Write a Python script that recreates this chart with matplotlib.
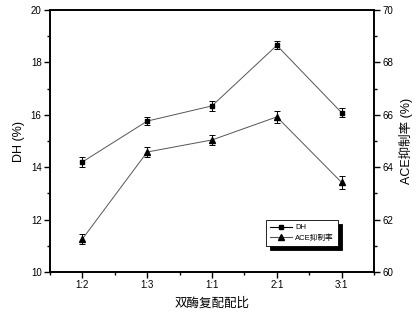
import matplotlib
matplotlib.use('Agg')
import matplotlib.pyplot as plt
from matplotlib.lines import Line2D
from matplotlib.ticker import MultipleLocator

plt.rcParams['font.family'] = ['Liberation Sans', 'Noto Sans CJK SC']

ratios = ['1:2', '1:3', '1:1', '2:1', '3:1']
dh = [14.2, 15.76, 16.34, 18.65, 16.08]
dh_err = [0.18, 0.15, 0.18, 0.15, 0.18]
ace = [61.26, 64.58, 65.04, 65.92, 63.42]
ace_err = [0.2, 0.2, 0.18, 0.22, 0.25]

x = list(range(len(ratios)))

fig = plt.figure(figsize=(4.16, 3.14), dpi=100)
ax = fig.add_axes([50 / 416, 42 / 314, 324 / 416, 262 / 314])
ax2 = ax.twinx()

ax.errorbar(x, dh, yerr=dh_err, color='#555555', lw=0.7, marker='s', ms=3.5,
            mfc='black', mec='black', ecolor='black', elinewidth=0.7,
            capsize=2, capthick=0.7)
ax2.errorbar(x, ace, yerr=ace_err, color='#555555', lw=0.7, marker='^', ms=4.5,
             mfc='black', mec='black', ecolor='black', elinewidth=0.7,
             capsize=2, capthick=0.7)

ax.set_xlim(-0.5, 4.5)
ax.set_ylim(10, 20)
ax2.set_ylim(60, 70)
ax.set_xticks(x)
ax.set_xticklabels(ratios)
ax.xaxis.set_minor_locator(MultipleLocator(0.5))
ax.yaxis.set_major_locator(MultipleLocator(2))
ax.yaxis.set_minor_locator(MultipleLocator(1))
ax2.yaxis.set_major_locator(MultipleLocator(2))
ax2.yaxis.set_minor_locator(MultipleLocator(1))

for a in (ax, ax2):
    a.tick_params(which='major', direction='out', length=4, width=1, labelsize=7, pad=2)
    a.tick_params(which='minor', direction='out', length=2.5, width=1)
    for s in a.spines.values():
        s.set_linewidth(1.2)
ax.tick_params(axis='x', which='both', top=False)

ax.set_ylabel('DH (%)', fontsize=9, labelpad=4)
ax2.set_ylabel('ACE抑制率 (%)', fontsize=9, labelpad=4)
ax.set_xlabel('双酶复配配比', fontsize=9, labelpad=5)

h1 = Line2D([], [], color='black', lw=0.8, marker='s', ms=3.5, mfc='black', mec='black')
h2 = Line2D([], [], color='#555555', lw=0.8, marker='^', ms=4.5, mfc='black', mec='black')
leg = ax.legend([h1, h2], ['DH', 'ACE抑制率'], loc='lower right',
                bbox_to_anchor=(0.9, 0.085), fontsize=5.5, frameon=True,
                fancybox=False, edgecolor='black', handlelength=2.8,
                borderpad=0.5, labelspacing=0.4, handletextpad=0.5,
                shadow={'color': 'black', 'alpha': 1, 'ox': 3, 'oy': -3})
leg.get_frame().set_linewidth(0.6)

fig.savefig('out.png', dpi=100)
